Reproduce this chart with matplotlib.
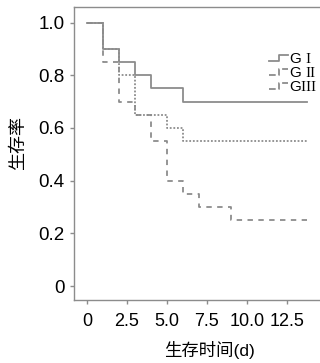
import matplotlib
matplotlib.use("Agg")
import matplotlib.pyplot as plt
from matplotlib.legend_handler import HandlerBase
from matplotlib.lines import Line2D

# Survival curves (step changes at each day)
t_g1 = [0, 1, 2, 3, 4, 6, 13.75]
s_g1 = [1.0, 0.9, 0.85, 0.8, 0.75, 0.7, 0.7]

t_g2 = [0, 1, 2, 3, 5, 6, 13.75]
s_g2 = [1.0, 0.9, 0.8, 0.65, 0.6, 0.55, 0.55]

t_g3 = [0, 1, 2, 3, 4, 5, 6, 7, 9, 13.75]
s_g3 = [1.0, 0.85, 0.7, 0.65, 0.55, 0.4, 0.35, 0.3, 0.25, 0.25]

labels = [r"G $\mathrm{I}$", r"G $\mathrm{II}$", r"G$\mathrm{III}$"]
xticks = [0, 2.5, 5.0, 7.5, 10.0, 12.5]
xtick_labels = ["0", "2.5", "5.0", "7.5", "10.0", "12.5"]
yticks = [0, 0.2, 0.4, 0.6, 0.8, 1.0]
ytick_labels = ["0", "0.2", "0.4", "0.6", "0.8", "1.0"]

gray = "#8c8c8c"
plt.rcParams["font.family"] = ["Liberation Sans", "Noto Sans CJK SC", "DejaVu Sans"]
plt.rcParams["mathtext.fontset"] = "custom"
plt.rcParams["mathtext.rm"] = "Liberation Serif"


# small step-shaped legend handle
class StepHandler(HandlerBase):
    def create_artists(self, legend, orig, xd, yd, w, h, fontsize, trans):
        xs = [xd, xd + w * 0.55, xd + w * 0.55, xd + w]
        ys = [yd + h * 0.2, yd + h * 0.2, yd + h * 0.7, yd + h * 0.7]
        ln = Line2D(xs, ys, color=orig.get_color(), linestyle=orig.get_linestyle(),
                    linewidth=orig.get_linewidth(), transform=trans)
        return [ln]


fig = plt.figure(figsize=(3.2, 3.63), dpi=100)
ax = fig.add_axes([74 / 320, 63 / 363, 266 / 320, 293 / 363])

l1, = ax.step(t_g1, s_g1, where="post", color=gray, lw=1.3, ls="-")
l2, = ax.step(t_g2, s_g2, where="post", color=gray, lw=1.3, ls=(0, (1, 1)))
l3, = ax.step(t_g3, s_g3, where="post", color=gray, lw=1.3, ls=(0, (3, 3)))

ax.set_xlim(-0.8, 15.8)
ax.set_ylim(-0.053, 1.059)
ax.set_xticks(xticks)
ax.set_xticklabels(xtick_labels, fontsize=13)
ax.set_yticks(yticks)
ax.set_yticklabels(ytick_labels, fontsize=13.5)
ax.tick_params(colors=gray, labelcolor="black", length=3, width=1)
ax.tick_params(axis="y", pad=4)
ax.tick_params(axis="x", pad=6)
for s in ax.spines.values():
    s.set_color(gray)
    s.set_linewidth(1)

ax.set_ylabel("生存率", fontsize=13)
ax.yaxis.set_label_coords((27 - 74) / 266, (300 - 143) / 293)
ax.set_xlabel("生存时间(d)", fontsize=12.5)
ax.xaxis.set_label_coords((209 - 74) / 266, -(341 - 300) / 293)

leg = ax.legend([l1, l2, l3], labels, handler_map={Line2D: StepHandler()},
                loc="upper left", bbox_to_anchor=((261 - 74) / 266, (300 - 44) / 293),
                frameon=False, fontsize=11, handlelength=1.25, handletextpad=0.1,
                labelspacing=0.0, borderpad=0)

fig.savefig("out.png", dpi=100)
